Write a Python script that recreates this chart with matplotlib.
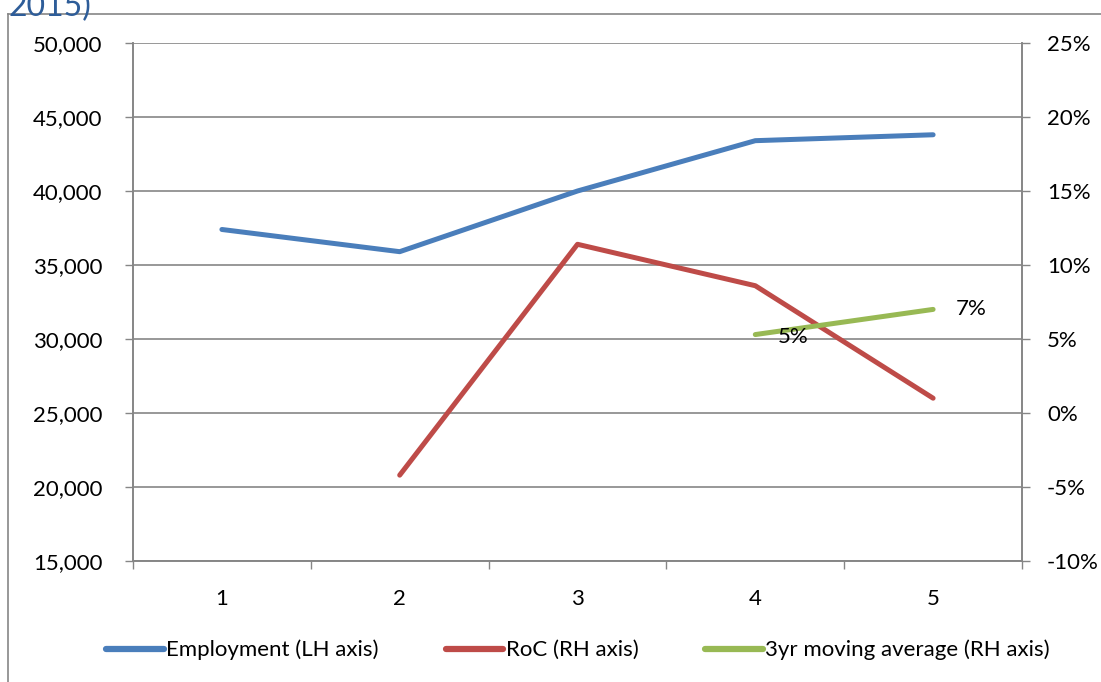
import matplotlib
matplotlib.use("Agg")
import matplotlib.pyplot as plt
from matplotlib.lines import Line2D
from matplotlib.ticker import FuncFormatter, FixedLocator

plt.rcParams["font.family"] = ["Lato", "DejaVu Sans"]

years = [1, 2, 3, 4, 5]
employment = [37400, 35900, 40000, 43400, 43800]
roc = [None, -0.042, 0.114, 0.086, 0.010]
moving_avg = [None, None, None, 0.053, 0.070]
ma_labels = ["5%", "7%"]

BLUE = "#4A7EBB"
RED = "#BE4B48"
GREEN = "#98B954"
GRID = "#868686"
FS = 16

fig = plt.figure(figsize=(11.01, 6.82), dpi=100)
ax = fig.add_axes([133 / 1101, 1 - 561 / 682, (1022 - 133) / 1101, (561 - 43) / 682])
ax2 = ax.twinx()

# outer chart frame, partly running off the canvas
fig.add_artist(Line2D([8 / 1101, 8 / 1101], [0, 1 - 14 / 682], transform=fig.transFigure,
                      color=GRID, lw=1.2))
fig.add_artist(Line2D([8 / 1101, 1], [1 - 14 / 682, 1 - 14 / 682], transform=fig.transFigure,
                      color=GRID, lw=1.2))
fig.text(8 / 1101, 1 + 8 / 682, "2015)", color="#2E5D99", fontsize=23, ha="left", va="top")

l1, = ax.plot(years, employment, color=BLUE, lw=3.6, solid_capstyle="round")
xs = [x for x, v in zip(years, roc) if v is not None]
l2, = ax2.plot(xs, [v for v in roc if v is not None], color=RED, lw=3.6, solid_capstyle="round")
xm = [x for x, v in zip(years, moving_avg) if v is not None]
ym = [v for v in moving_avg if v is not None]
l3, = ax2.plot(xm, ym, color=GREEN, lw=3.6, solid_capstyle="round")
for x, y, lab in zip(xm, ym, ma_labels):
    dy = -2 if lab == "5%" else 0
    ax2.annotate(lab, (x, y), xytext=(16, dy), textcoords="offset points",
                 ha="left", va="center", fontsize=FS)

ax.set_xlim(0.5, 5.5)
ax.set_ylim(15000, 50000)
ax2.set_ylim(-0.10, 0.25)
ax.set_yticks(range(15000, 50001, 5000))
ax2.set_yticks([i / 100 for i in range(-10, 26, 5)])
ax.yaxis.set_major_formatter(FuncFormatter(lambda v, p: f"{int(v):,}"))
ax2.yaxis.set_major_formatter(FuncFormatter(lambda v, p: f"{round(v * 100)}%"))

ax.set_xticks(years)
ax.xaxis.set_minor_locator(FixedLocator([0.5, 1.5, 2.5, 3.5, 4.5, 5.5]))
ax.tick_params(axis="x", which="major", length=0, pad=20, labelsize=FS)
ax.tick_params(axis="x", which="minor", length=6, width=1, color=GRID, direction="out")
ax.tick_params(axis="y", length=6, width=1, color=GRID, pad=16, labelsize=FS)
ax2.tick_params(axis="y", length=6, width=1, color=GRID, pad=12, labelsize=FS)

ax.grid(axis="y", color=GRID, lw=1.2)
ax.set_axisbelow(True)
for a in (ax, ax2):
    a.spines["top"].set_visible(False)
    for side in ("left", "right", "bottom"):
        a.spines[side].set_color(GRID)
        a.spines[side].set_linewidth(1.2)

leg = fig.legend([l1, l2, l3], ["Employment (LH axis)", "RoC (RH axis)", "3yr moving average (RH axis)"],
                 loc="center", bbox_to_anchor=(578 / 1101, 1 - 650 / 682), ncol=3, frameon=False,
                 fontsize=FS, handlelength=2.6, handletextpad=0.1, columnspacing=3.0)
for h in leg.legend_handles:
    h.set_linewidth(4.5)

fig.savefig("out.png", dpi=100)
